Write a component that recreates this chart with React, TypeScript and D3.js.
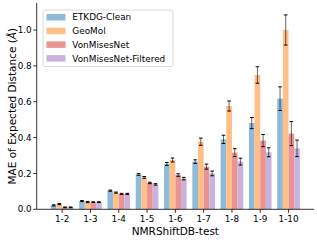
import React from "react";
import * as d3 from "d3";

const categories = ["1-2", "1-3", "1-4", "1-5", "1-6", "1-7", "1-8", "1-9", "1-10"];
const seriesNames = ["ETKDG-Clean", "GeoMol", "VonMisesNet", "VonMisesNet-Filtered"];
const etkdg = [0.022, 0.046, 0.104, 0.195, 0.253, 0.266, 0.39, 0.481, 0.617];
const geomol = [0.029, 0.04, 0.093, 0.178, 0.275, 0.377, 0.576, 0.749, 1.0];
const vmn = [0.011, 0.04, 0.086, 0.147, 0.191, 0.238, 0.316, 0.383, 0.422];
const vmnf = [0.011, 0.04, 0.086, 0.139, 0.171, 0.2, 0.266, 0.318, 0.34];
const etkdgErr = [0.003, 0.003, 0.003, 0.005, 0.008, 0.01, 0.023, 0.031, 0.066];
const geomolErr = [0.003, 0.003, 0.003, 0.005, 0.011, 0.02, 0.028, 0.046, 0.084];
const vmnErr = [0.002, 0.002, 0.003, 0.004, 0.007, 0.014, 0.022, 0.034, 0.067];
const vmnfErr = [0.002, 0.002, 0.003, 0.004, 0.007, 0.013, 0.019, 0.025, 0.046];
const yTicks = [0, 0.2, 0.4, 0.6, 0.8, 1.0];
const colors = ["#8fbbd9", "#ffbf86", "#ea9393", "#c9b3de"];

const values = [etkdg, geomol, vmn, vmnf];
const errors = [etkdgErr, geomolErr, vmnErr, vmnfErr];

const W = 317;
const H = 241;
const FONT = "DejaVu Sans";

export default function App() {
  const x = d3.scaleLinear().domain([-0.9, 8.9]).range([36.7, 314]);
  const y = d3.scaleLinear().domain([0, 1.15]).range([209.3, 3.1]);
  const bw = 0.2;
  const offsets = [-0.3, -0.1, 0.1, 0.3];
  const barPx = x(bw) - x(0);
  const cap = 1.8;

  return (
    <svg width={W} height={H} style={{ position: "absolute", left: 0, top: 0 }} fontFamily={FONT}>
      <rect x={0} y={0} width={W} height={H} fill="#fff" />
      {values.map((vals, s) =>
        vals.map((v, i) => {
          const cx = x(i + offsets[s]);
          return (
            <rect
              key={`b${s}-${i}`}
              x={cx - barPx / 2}
              y={y(v)}
              width={barPx}
              height={y(0) - y(v)}
              fill={colors[s]}
            />
          );
        })
      )}
      {values.map((vals, s) =>
        vals.map((v, i) => {
          const cx = x(i + offsets[s]);
          const e = errors[s][i];
          return (
            <g key={`e${s}-${i}`}>
              <line x1={cx} x2={cx} y1={y(v - e)} y2={y(v + e)} stroke="#000" strokeOpacity={0.6} strokeWidth={1} />
              <line x1={cx - cap} x2={cx + cap} y1={y(v - e)} y2={y(v - e)} stroke="#000" strokeWidth={1} />
              <line x1={cx - cap} x2={cx + cap} y1={y(v + e)} y2={y(v + e)} stroke="#000" strokeWidth={1} />
            </g>
          );
        })
      )}
      {/* axes */}
      <line x1={x(-0.9)} x2={x(-0.9)} y1={y(1.15)} y2={y(0)} stroke="#000" strokeWidth={0.8} />
      <line x1={x(-0.9)} x2={x(8.9)} y1={y(0)} y2={y(0)} stroke="#000" strokeWidth={0.8} />
      {yTicks.map((t) => (
        <g key={`yt${t}`}>
          <line x1={x(-0.9) - 3.5} x2={x(-0.9)} y1={y(t)} y2={y(t)} stroke="#000" strokeWidth={0.8} />
          <text x={x(-0.9) - 5} y={y(t)} dy="0.35em" textAnchor="end" fontSize={8.8} fill="#000">
            {t.toFixed(1)}
          </text>
        </g>
      ))}
      {categories.map((c, i) => (
        <g key={`xt${c}`}>
          <line x1={x(i)} x2={x(i)} y1={y(0)} y2={y(0) + 3.5} stroke="#000" strokeWidth={0.8} />
          <text x={x(i)} y={y(0) + 13} textAnchor="middle" fontSize={8.8} fill="#000">
            {c}
          </text>
        </g>
      ))}
      <text x={(x(-0.9) + x(8.9)) / 2} y={235} textAnchor="middle" fontSize={10.5} fill="#000">
        NMRShiftDB-test
      </text>
      <text
        transform={`translate(15.5, ${(y(0) + y(1.15)) / 2}) rotate(-90)`}
        textAnchor="middle"
        fontSize={10.5}
        fill="#000"
      >
        MAE of Expected Distance (<tspan fontStyle="italic">Å</tspan>)
      </text>
      {/* legend */}
      <rect x={43} y={10} width={130} height={56.5} rx={2} fill="#fff" fillOpacity={0.8} stroke="#d0d0d0" strokeWidth={0.8} />
      {seriesNames.map((n, s) => (
        <g key={`lg${n}`}>
          <rect x={46.5} y={14 + s * 13.7} width={19} height={6.5} fill={colors[s]} />
          <text x={72.3} y={17.3 + s * 13.7} dy="0.35em" fontSize={8.9} fill="#000">
            {n}
          </text>
        </g>
      ))}
    </svg>
  );
}
